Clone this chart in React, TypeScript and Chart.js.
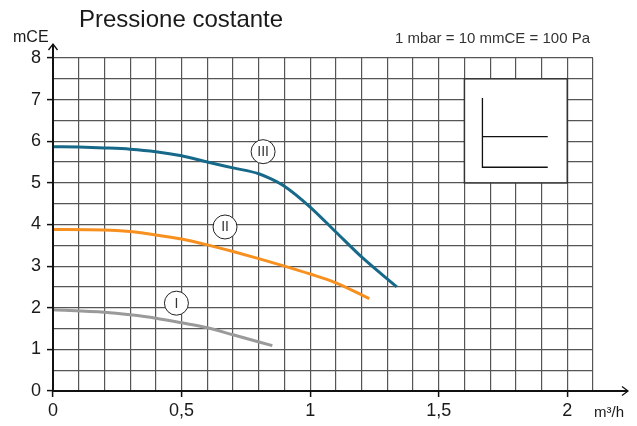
import React, { useEffect, useRef } from "react";
import { Chart, registerables } from "chart.js";

Chart.register(...registerables);

const TITLE = "Pressione costante";
const NOTE = "1 mbar = 10 mmCE = 100 Pa";
const Y_UNIT = "mCE";
const X_UNIT = "m³/h";

const X_MIN = 0;
const X_MAX = 2.1;
const X_STEP = 0.1;
const Y_MIN = 0;
const Y_MAX = 8;
const Y_STEP = 0.5;

const curveIII: [number, number][] = [
  [0, 5.87], [0.1, 5.86], [0.2, 5.84], [0.3, 5.81], [0.4, 5.75], [0.5, 5.65],
  [0.6, 5.5], [0.7, 5.36], [0.8, 5.22], [0.85, 5.09], [0.9, 4.92], [1.0, 4.42],
  [1.1, 3.82], [1.2, 3.22], [1.337, 2.5],
];
const curveII: [number, number][] = [
  [0, 3.88], [0.2, 3.87], [0.3, 3.83], [0.4, 3.75], [0.5, 3.65], [0.6, 3.51],
  [0.7, 3.35], [0.8, 3.18], [0.9, 3.0], [1.0, 2.81], [1.1, 2.6], [1.23, 2.22],
];
const curveI: [number, number][] = [
  [0, 1.95], [0.2, 1.89], [0.3, 1.83], [0.4, 1.75], [0.5, 1.64], [0.6, 1.52],
  [0.7, 1.35], [0.853, 1.09],
];

const curveNames = ["III", "II", "I"];
const curveColors = ["#17698a", "#f7901e", "#9a9a9a"];
const labelPositions: [number, number][] = [
  [0.817, 5.75],
  [0.669, 3.94],
  [0.48, 2.11],
];
// pictogram box in data units: [x0, x1, y0, y1]
const ICON_BOX = [1.6, 2.0, 5.0, 7.5];

const FONT = "'Liberation Sans', Arial, sans-serif";

const fmt = (v: number) => String(v).replace(".", ",");
const isHalf = (v: number) => Math.abs(v * 2 - Math.round(v * 2)) < 1e-6;
const isInt = (v: number) => Math.abs(v - Math.round(v)) < 1e-6;

const decorPlugin = {
  id: "decor",
  beforeDatasetsDraw(chart: any) {
    const { ctx, scales } = chart;
    const xs = scales.x, ys = scales.y;
    const x0 = xs.getPixelForValue(ICON_BOX[0]);
    const x1 = xs.getPixelForValue(ICON_BOX[1]);
    const y0 = ys.getPixelForValue(ICON_BOX[3]);
    const y1 = ys.getPixelForValue(ICON_BOX[2]);
    ctx.save();
    ctx.fillStyle = "#ffffff";
    ctx.fillRect(x0, y0, x1 - x0, y1 - y0);
    ctx.strokeStyle = "#333";
    ctx.lineWidth = 1.5;
    ctx.strokeRect(x0, y0, x1 - x0, y1 - y0);
    const w = x1 - x0, h = y1 - y0;
    const lx = x0 + w * 0.175;
    const rx = x0 + w * 0.81;
    const ty = y0 + h * 0.185;
    const my = y0 + h * 0.555;
    const by = y0 + h * 0.85;
    ctx.strokeStyle = "#111";
    ctx.lineWidth = 1.3;
    ctx.beginPath();
    ctx.moveTo(lx, ty);
    ctx.lineTo(lx, by);
    ctx.lineTo(rx, by);
    ctx.moveTo(lx, my);
    ctx.lineTo(rx, my);
    ctx.stroke();
    ctx.restore();
  },
  afterDatasetsDraw(chart: any) {
    const { ctx, scales, chartArea } = chart;
    const xs = scales.x, ys = scales.y;
    ctx.save();
    // axes
    const ox = xs.getPixelForValue(0);
    const oy = ys.getPixelForValue(0);
    const topY = chartArea.top - 14;
    const rightX = chartArea.right + 35;
    ctx.strokeStyle = "#111";
    ctx.lineWidth = 2;
    ctx.beginPath();
    ctx.moveTo(ox, oy);
    ctx.lineTo(ox, topY);
    ctx.moveTo(ox, oy);
    ctx.lineTo(rightX, oy);
    ctx.stroke();
    ctx.lineWidth = 1.3;
    ctx.beginPath();
    ctx.moveTo(ox - 4.5, topY + 6);
    ctx.lineTo(ox, topY);
    ctx.lineTo(ox + 4.5, topY + 6);
    ctx.moveTo(rightX - 6, oy - 4.5);
    ctx.lineTo(rightX, oy);
    ctx.lineTo(rightX - 6, oy + 4.5);
    ctx.stroke();

    // curve labels
    ctx.font = `14px ${FONT}`;
    ctx.textAlign = "center";
    ctx.textBaseline = "middle";
    labelPositions.forEach((p, i) => {
      const px = xs.getPixelForValue(p[0]);
      const py = ys.getPixelForValue(p[1]);
      ctx.beginPath();
      ctx.arc(px, py, 12, 0, Math.PI * 2);
      ctx.fillStyle = "#fff";
      ctx.fill();
      ctx.strokeStyle = "#222";
      ctx.lineWidth = 1;
      ctx.stroke();
      ctx.fillStyle = "#333";
      ctx.fillText(curveNames[i], px, py + 0.5);
    });

    // texts
    ctx.fillStyle = "#1a1a1a";
    ctx.textAlign = "left";
    ctx.textBaseline = "alphabetic";
    ctx.font = `24px ${FONT}`;
    ctx.fillText(TITLE, 79, 27);
    ctx.font = `16px ${FONT}`;
    ctx.fillText(Y_UNIT, 13, 42);
    ctx.font = `15px ${FONT}`;
    ctx.fillText(X_UNIT, 594, 417);
    ctx.fillStyle = "#333";
    ctx.font = `15px ${FONT}`;
    ctx.textAlign = "right";
    ctx.fillText(NOTE, 590, 43);
    ctx.restore();
  },
};

export default function App() {
  const ref = useRef<HTMLCanvasElement | null>(null);
  useEffect(() => {
    if (!ref.current) return;
    const toPts = (c: [number, number][]) => c.map(([x, y]) => ({ x, y }));
    const curves = [curveIII, curveII, curveI];
    const chart = new Chart(ref.current, {
      type: "line",
      data: {
        datasets: curves.map((c, i) => ({
          label: curveNames[i],
          data: toPts(c),
          borderColor: curveColors[i],
          borderWidth: 3,
          pointRadius: 0,
          fill: false,
          cubicInterpolationMode: "monotone" as const,
        })),
      },
      options: {
        animation: false,
        responsive: false,
        maintainAspectRatio: false,
        layout: { padding: { top: 58, right: 44, left: 0, bottom: 0 } },
        plugins: { legend: { display: false }, tooltip: { enabled: false }, title: { display: false } },
        scales: {
          x: {
            type: "linear",
            min: X_MIN,
            max: X_MAX,
            afterFit: (s: any) => { s.height = 35; },
            border: { display: false },
            grid: {
              color: "#555",
              lineWidth: 1.2,
              tickLength: 6,
              tickColor: (c: any) => (isHalf(c.tick.value) && c.tick.value < 2.05 ? "#111" : "rgba(0,0,0,0)"),
              tickWidth: 1.5,
            },
            ticks: {
              stepSize: X_STEP,
              autoSkip: false,
              maxRotation: 0,
              padding: 3,
              color: "#1a1a1a",
              font: { family: FONT, size: 18 },
              callback: (v: any) => (isHalf(Number(v)) && Number(v) < 2.05 ? fmt(Number(v)) : ""),
            },
          },
          y: {
            type: "linear",
            min: Y_MIN,
            max: Y_MAX,
            afterFit: (s: any) => { s.width = 53; },
            border: { display: false },
            grid: {
              color: "#555",
              lineWidth: 1.2,
              tickLength: 6,
              tickColor: (c: any) => (isInt(c.tick.value) ? "#111" : "rgba(0,0,0,0)"),
              tickWidth: 1.5,
            },
            ticks: {
              stepSize: Y_STEP,
              autoSkip: false,
              padding: 6,
              color: "#1a1a1a",
              font: { family: FONT, size: 18 },
              callback: (v: any) => (isInt(Number(v)) ? String(Number(v)) : ""),
            },
          },
        },
      },
      plugins: [decorPlugin],
    });
    return () => chart.destroy();
  }, []);
  return (
    <div style={{ position: "absolute", left: 0, top: 0, width: 637, height: 426, background: "#fff" }}>
      <canvas ref={ref} width={637} height={426} style={{ width: 637, height: 426, display: "block" }} />
    </div>
  );
}
